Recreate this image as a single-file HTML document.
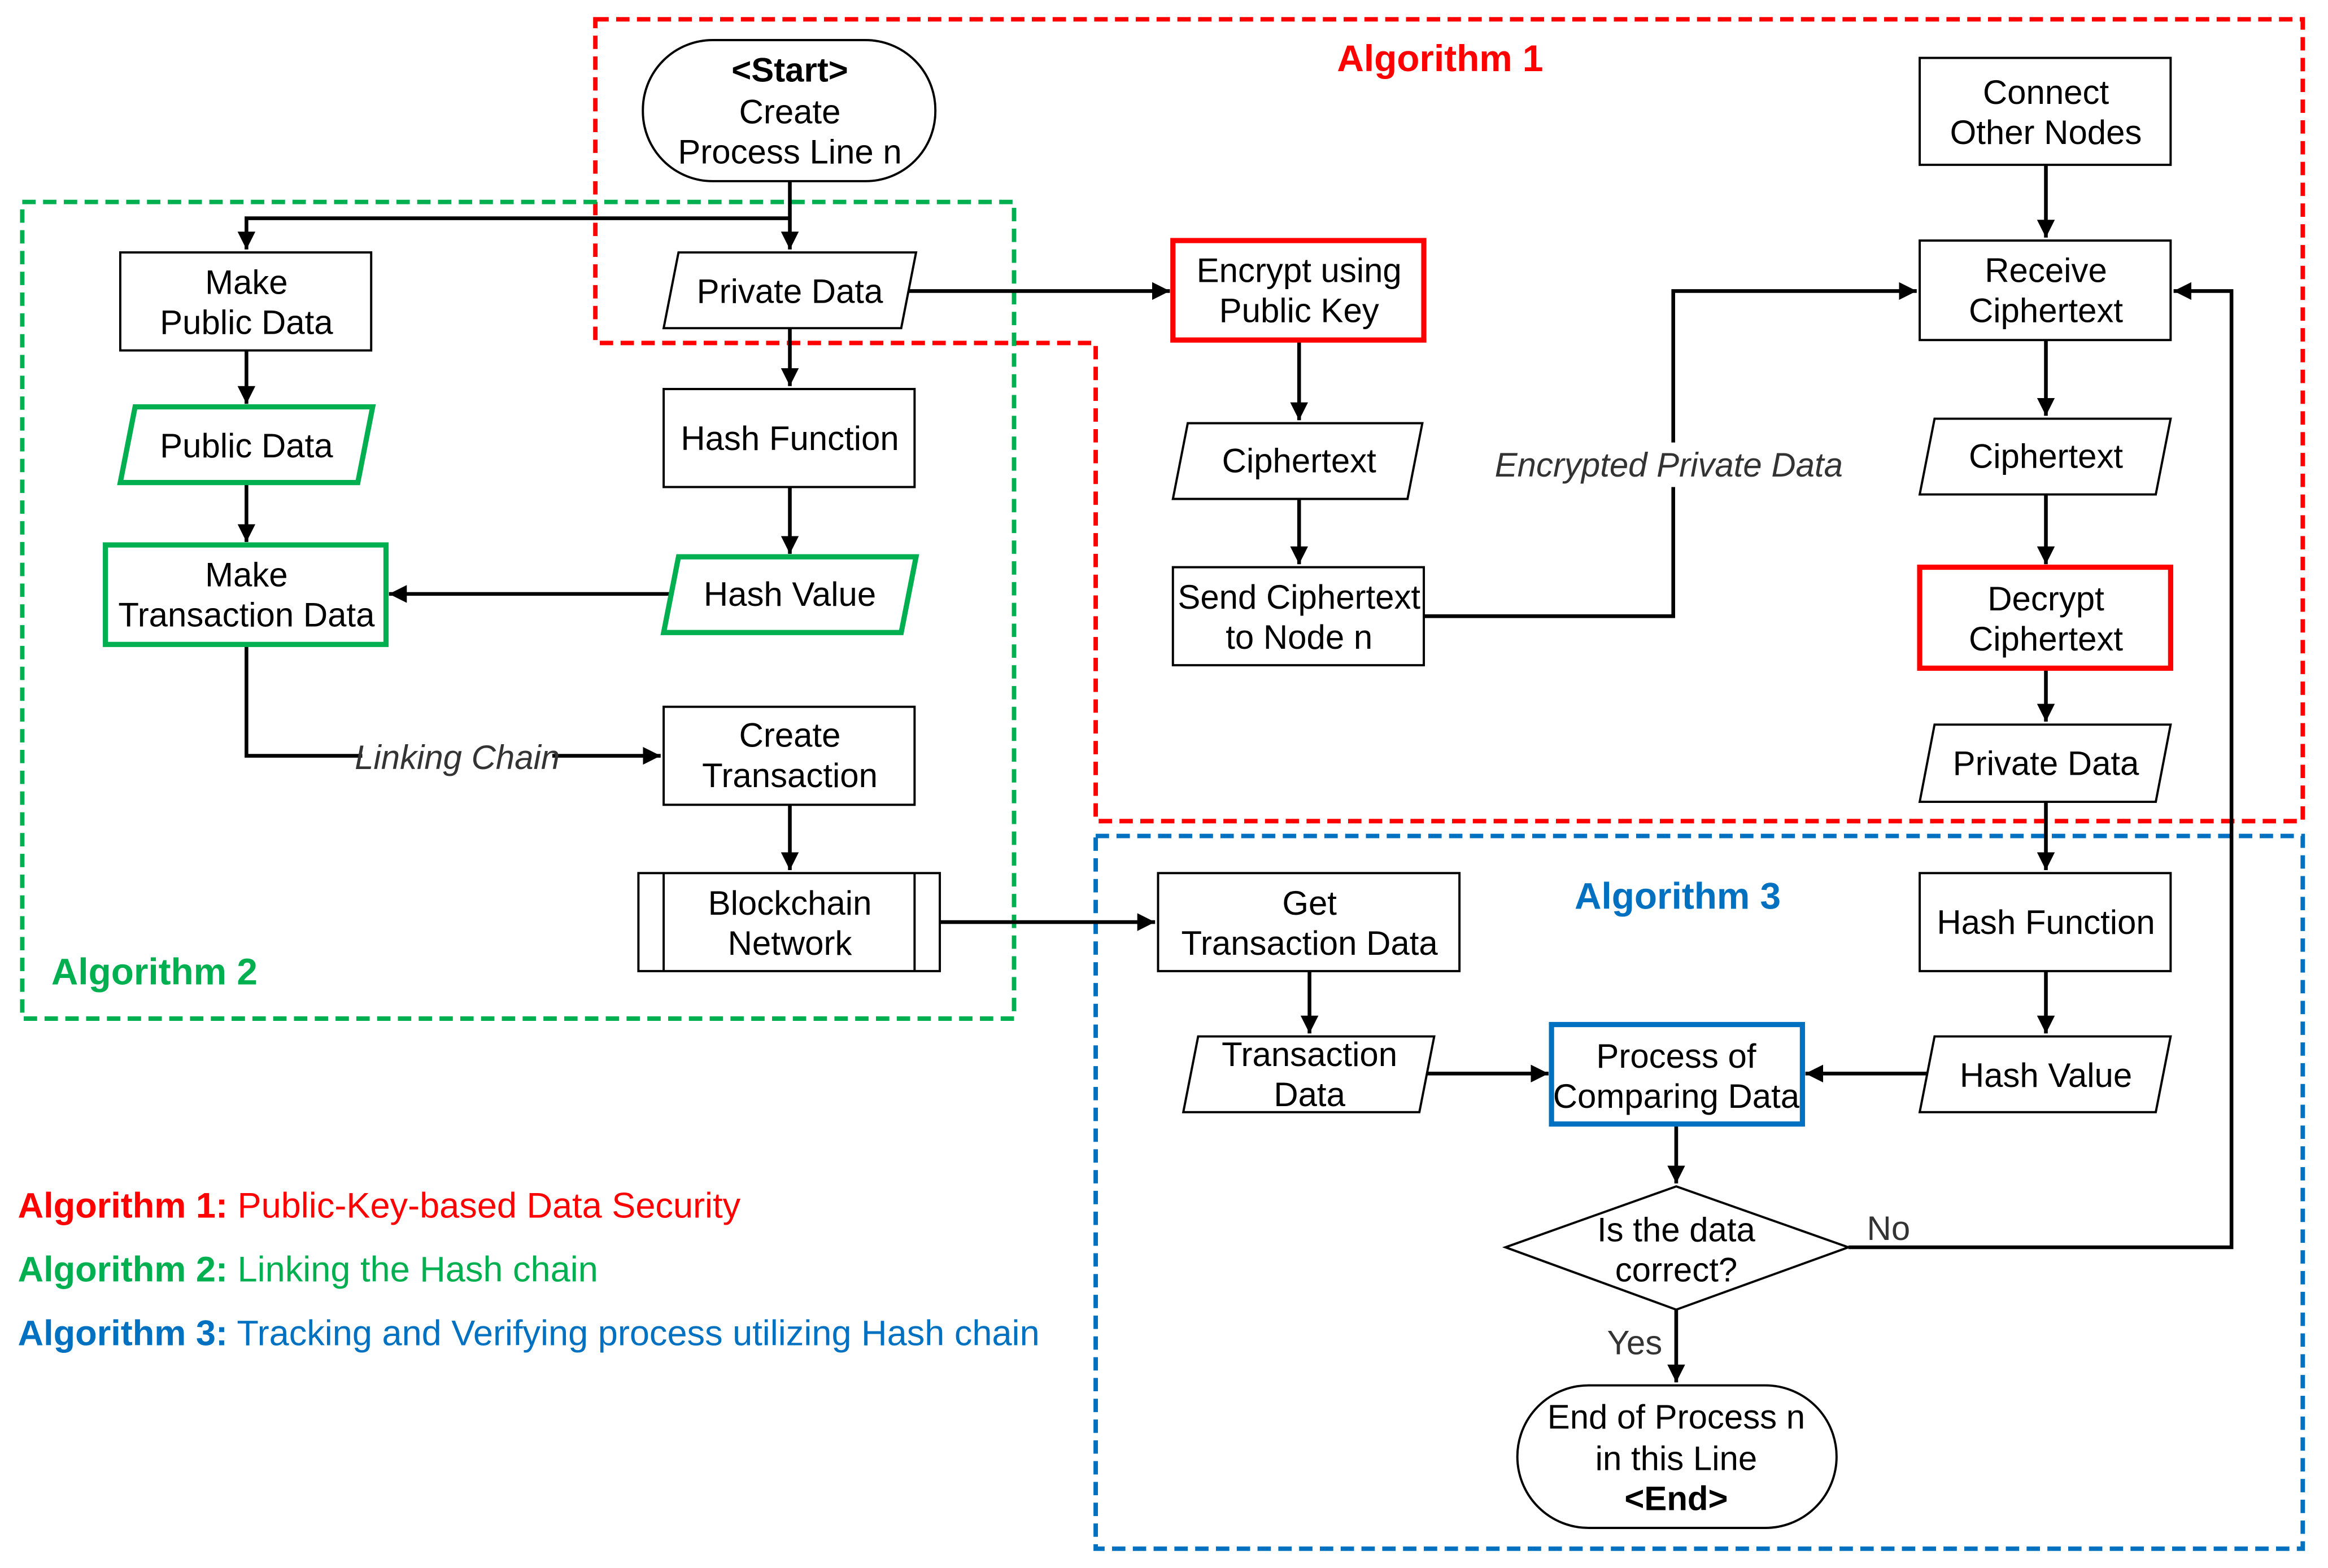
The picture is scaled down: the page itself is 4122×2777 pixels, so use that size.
<!DOCTYPE html>
<html><head><meta charset="utf-8"><style>
html,body{margin:0;padding:0;background:#fff;}
svg{display:block;}
text{font-family:"Liberation Sans",Arial,sans-serif;font-size:22.8px;fill:#000;}
</style></head><body>
<svg width="4122" height="2777" viewBox="0 0 1568 1056" preserveAspectRatio="none" xmlns="http://www.w3.org/2000/svg">
<defs>
<marker id="b" viewBox="0 0 10 10" refX="10" refY="5" markerWidth="12" markerHeight="12" orient="auto" markerUnits="userSpaceOnUse"><path d="M0,0 L10,5 L0,10 z" fill="#000"/></marker>
</defs>
<rect width="1568" height="1056" fill="#fff"/>
<path d="M401,13 H1551 V553 H738 V231 H401 Z" fill="none" stroke="#ff0000" stroke-width="3" stroke-dasharray="9,5"/>
<rect x="15" y="136" width="668" height="550" fill="none" stroke="#00b050" stroke-width="3" stroke-dasharray="9,5"/>
<rect x="738" y="563" width="813" height="480" fill="none" stroke="#0070c0" stroke-width="3" stroke-dasharray="9,5"/>
<text x="970" y="48" text-anchor="middle" font-weight="bold" style="fill:#ff0000;font-size:25px">Algorithm 1</text>
<text x="104" y="663" text-anchor="middle" font-weight="bold" style="fill:#00b050;font-size:25px">Algorithm 2</text>
<text x="1130" y="612" text-anchor="middle" font-weight="bold" style="fill:#0070c0;font-size:25px">Algorithm 3</text>

<g fill="none" stroke="#000" stroke-width="2.5">
<path d="M532,122 V168" marker-end="url(#b)"/>
<path d="M532,147 H166 V168" marker-end="url(#b)"/>
<path d="M166,236 V272" marker-end="url(#b)"/>
<path d="M166,325 V365" marker-end="url(#b)"/>
<path d="M532,221 V260" marker-end="url(#b)"/>
<path d="M532,328 V373" marker-end="url(#b)"/>
<path d="M452,400 H262" marker-end="url(#b)"/>
<path d="M166,434 V509 H445" marker-end="url(#b)"/>
<path d="M532,542 V586" marker-end="url(#b)"/>
<path d="M633,621 H778" marker-end="url(#b)"/>
<path d="M610,196 H788" marker-end="url(#b)"/>
<path d="M875,229 V283" marker-end="url(#b)"/>
<path d="M875,336 V380" marker-end="url(#b)"/>
<path d="M959,415 H1127 V196 H1291" marker-end="url(#b)"/>
<path d="M1378,111 V160" marker-end="url(#b)"/>
<path d="M1378,229 V280" marker-end="url(#b)"/>
<path d="M1378,333 V380" marker-end="url(#b)"/>
<path d="M1378,450 V486" marker-end="url(#b)"/>
<path d="M1378,540 V586" marker-end="url(#b)"/>
<path d="M1378,654 V696" marker-end="url(#b)"/>
<path d="M1300,723 H1216" marker-end="url(#b)"/>
<path d="M882,654 V696" marker-end="url(#b)"/>
<path d="M960,723 H1043" marker-end="url(#b)"/>
<path d="M1129,757 V797" marker-end="url(#b)"/>
<path d="M1245,840 H1503 V196 H1464" marker-end="url(#b)"/>
<path d="M1129,882 V931" marker-end="url(#b)"/>
</g>
<rect x="1012" y="298" width="226" height="30" fill="#fff"/>
<text x="1124" y="321" text-anchor="middle" font-style="italic" style="fill:#333">Encrypted Private Data</text>
<rect x="244" y="495" width="128" height="28" fill="#fff"/>
<text x="308" y="518" text-anchor="middle" font-style="italic" style="fill:#333">Linking Chain</text>
<text x="1272" y="835" text-anchor="middle" style="fill:#333">No</text>
<text x="1101" y="912" text-anchor="middle" style="fill:#333">Yes</text>

<g stroke="#000" stroke-width="1.5" fill="#fff">
<rect x="433" y="27" width="197" height="95" rx="47" ry="47"/>
<rect x="81" y="170" width="169" height="66"/>
<polygon points="457,170 617,170 607,221 447,221"/>
<rect x="447" y="262" width="169" height="66"/>
<rect x="447" y="476" width="169" height="66"/>
<rect x="430" y="588" width="203" height="66"/>
<line x1="447" y1="588" x2="447" y2="654"/><line x1="616" y1="588" x2="616" y2="654"/>
<polygon points="800,285 958,285 948,336 790,336"/>
<rect x="790" y="382" width="169" height="66"/>
<rect x="1293" y="39" width="169" height="72"/>
<rect x="1293" y="162" width="169" height="67"/>
<polygon points="1303,282 1462,282 1452,333 1293,333"/>
<polygon points="1303,488 1462,488 1452,540 1293,540"/>
<rect x="1293" y="588" width="169" height="66"/>
<polygon points="1303,698 1462,698 1452,749 1293,749"/>
<rect x="780" y="588" width="203" height="66"/>
<polygon points="807,698 966,698 956,749 797,749"/>
<polygon points="1129,799 1245,840 1129,882 1014,840"/>
<rect x="1022" y="933" width="215" height="96" rx="48" ry="48"/>
</g>
<g stroke="#00b050" stroke-width="3.5" fill="#fff">
<polygon points="91,274 251,274 241,325 81,325"/>
<rect x="71" y="367" width="189" height="67"/>
<polygon points="457,375 617,375 607,426 447,426"/>
</g>
<g stroke="#ff0000" stroke-width="3.5" fill="#fff">
<rect x="790" y="162" width="169" height="67"/>
<rect x="1293" y="382" width="169" height="68"/>
</g>
<rect x="1045" y="690" width="169" height="67" stroke="#0070c0" stroke-width="3.5" fill="#fff"/>

<g text-anchor="middle">
<text x="532" y="55" font-weight="bold">&lt;Start&gt;</text>
<text x="532" y="83">Create</text>
<text x="532" y="110">Process Line n</text>
<text x="166" y="198">Make</text><text x="166" y="225">Public Data</text>
<text x="532" y="204">Private Data</text>
<text x="166" y="308">Public Data</text>
<text x="166" y="395">Make</text><text x="166" y="422">Transaction Data</text>
<text x="532" y="303">Hash Function</text>
<text x="532" y="408">Hash Value</text>
<text x="532" y="503">Create</text><text x="532" y="530">Transaction</text>
<text x="532" y="616">Blockchain</text><text x="532" y="643">Network</text>
<text x="875" y="190">Encrypt using</text><text x="875" y="217">Public Key</text>
<text x="875" y="318">Ciphertext</text>
<text x="875" y="410">Send Ciphertext</text><text x="875" y="437">to Node n</text>
<text x="1378" y="70">Connect</text><text x="1378" y="97">Other Nodes</text>
<text x="1378" y="190">Receive</text><text x="1378" y="217">Ciphertext</text>
<text x="1378" y="315">Ciphertext</text>
<text x="1378" y="411">Decrypt</text><text x="1378" y="438">Ciphertext</text>
<text x="1378" y="522">Private Data</text>
<text x="1378" y="629">Hash Function</text>
<text x="1378" y="732">Hash Value</text>
<text x="882" y="616">Get</text><text x="882" y="643">Transaction Data</text>
<text x="882" y="718">Transaction</text><text x="882" y="745">Data</text>
<text x="1129" y="719">Process of</text><text x="1129" y="746">Comparing Data</text>
<text x="1129" y="836">Is the data</text><text x="1129" y="863">correct?</text>
<text x="1129" y="962">End of Process n</text>
<text x="1129" y="990">in this Line</text>
<text x="1129" y="1017" font-weight="bold">&lt;End&gt;</text>
</g>

<text x="12" y="820" style="font-size:24px;fill:#ff0000"><tspan font-weight="bold">Algorithm 1:</tspan> Public-Key-based Data Security</text>
<text x="12" y="863" style="font-size:24px;fill:#00b050"><tspan font-weight="bold">Algorithm 2:</tspan> Linking the Hash chain</text>
<text x="12" y="906" style="font-size:24px;fill:#0070c0"><tspan font-weight="bold">Algorithm 3:</tspan> Tracking and Verifying process utilizing Hash chain</text>
</svg>
</body></html>
